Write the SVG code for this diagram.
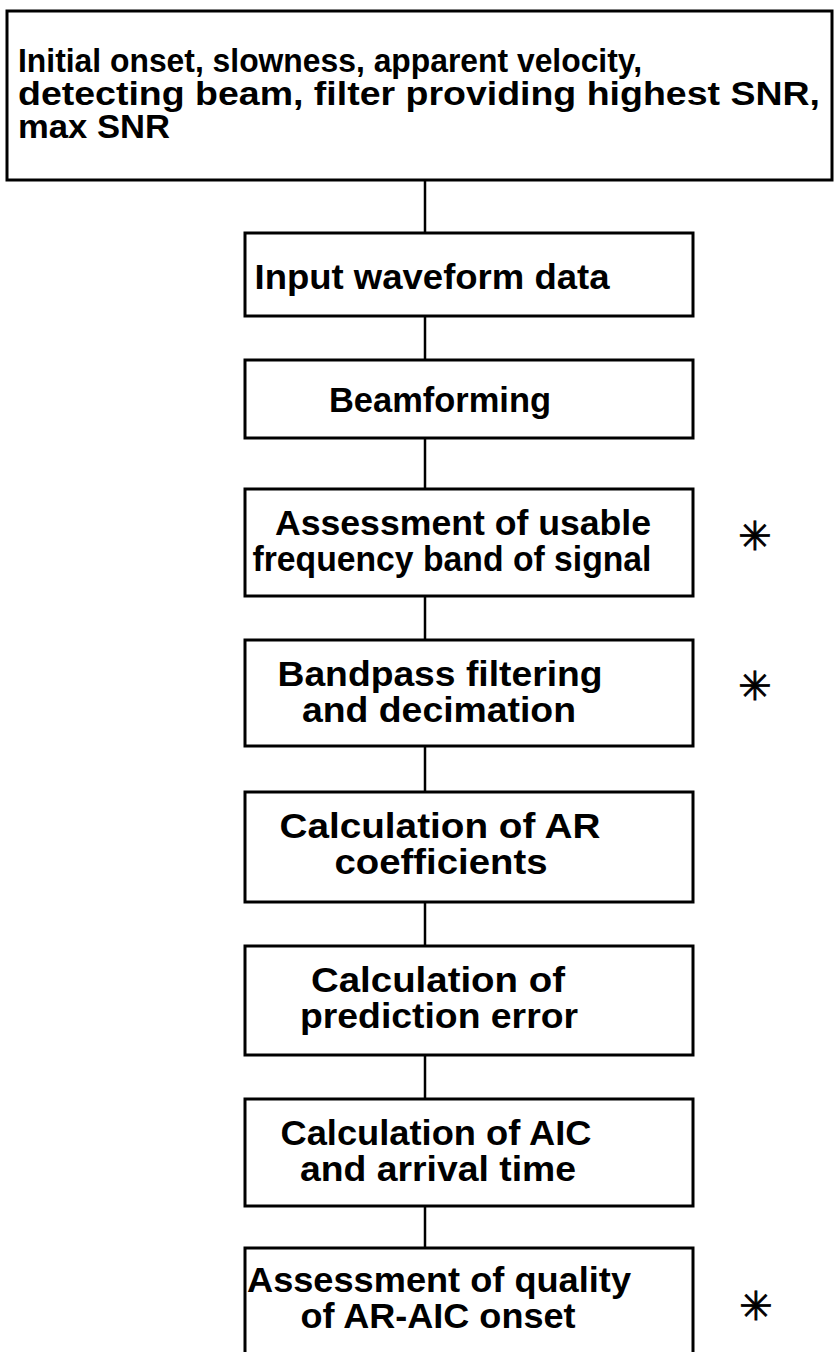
<svg xmlns="http://www.w3.org/2000/svg" width="835" height="1352" viewBox="0 0 835 1352">
<style>
.box{fill:#fff;stroke:#000;stroke-width:3}
.conn{stroke:#000;stroke-width:2.5;fill:none}
.t{font-family:"Liberation Sans",Arial,sans-serif;font-weight:bold;font-size:35px;fill:#000;text-anchor:middle}
.top{font-family:"Liberation Sans",Arial,sans-serif;font-weight:bold;font-size:33px;fill:#000}
.ast{font-family:"DejaVu Sans",sans-serif;font-size:40px;fill:#000;stroke:#000;stroke-width:0.8;text-anchor:middle}
</style>
<rect width="835" height="1352" fill="#fff"/>
<g id="connectors">
<line class="conn" x1="425" y1="180" x2="425" y2="233"/>
<line class="conn" x1="425" y1="316" x2="425" y2="360"/>
<line class="conn" x1="425" y1="438" x2="425" y2="489"/>
<line class="conn" x1="425" y1="596" x2="425" y2="640"/>
<line class="conn" x1="425" y1="746" x2="425" y2="792"/>
<line class="conn" x1="425" y1="902" x2="425" y2="946"/>
<line class="conn" x1="425" y1="1055" x2="425" y2="1099"/>
<line class="conn" x1="425" y1="1206" x2="425" y2="1248"/>
</g>
<g id="n0">
<rect class="box" x="7" y="11" width="825" height="169"/>
<text class="top" x="18" y="72" textLength="624" lengthAdjust="spacingAndGlyphs">Initial onset, slowness, apparent velocity,</text>
<text class="top" x="18" y="105" textLength="802" lengthAdjust="spacingAndGlyphs">detecting beam, filter providing highest SNR,</text>
<text class="top" x="18" y="138" textLength="152" lengthAdjust="spacingAndGlyphs">max SNR</text>
</g>
<g id="n1">
<rect class="box" x="245" y="233" width="448" height="83"/>
<text class="t" x="432" y="289" textLength="355" lengthAdjust="spacingAndGlyphs">Input waveform data</text>
</g>
<g id="n2">
<rect class="box" x="245" y="360" width="448" height="78"/>
<text class="t" x="440" y="412" textLength="222" lengthAdjust="spacingAndGlyphs">Beamforming</text>
</g>
<g id="n3">
<rect class="box" x="245" y="489" width="448" height="107"/>
<text class="t" x="463" y="535" textLength="376" lengthAdjust="spacingAndGlyphs">Assessment of usable</text>
<text class="t" x="452" y="571" textLength="399" lengthAdjust="spacingAndGlyphs">frequency band of signal</text>
</g>
<g id="n4">
<rect class="box" x="245" y="640" width="448" height="106"/>
<text class="t" x="440" y="686" textLength="325" lengthAdjust="spacingAndGlyphs">Bandpass filtering</text>
<text class="t" x="439" y="722" textLength="274" lengthAdjust="spacingAndGlyphs">and decimation</text>
</g>
<g id="n5">
<rect class="box" x="245" y="792" width="448" height="110"/>
<text class="t" x="440" y="838" textLength="321" lengthAdjust="spacingAndGlyphs">Calculation of AR</text>
<text class="t" x="441" y="874" textLength="213" lengthAdjust="spacingAndGlyphs">coefficients</text>
</g>
<g id="n6">
<rect class="box" x="245" y="946" width="448" height="109"/>
<text class="t" x="438" y="992" textLength="254" lengthAdjust="spacingAndGlyphs">Calculation of</text>
<text class="t" x="439" y="1028" textLength="278" lengthAdjust="spacingAndGlyphs">prediction error</text>
</g>
<g id="n7">
<rect class="box" x="245" y="1099" width="448" height="107"/>
<text class="t" x="436" y="1145" textLength="311" lengthAdjust="spacingAndGlyphs">Calculation of AIC</text>
<text class="t" x="438" y="1181" textLength="276" lengthAdjust="spacingAndGlyphs">and arrival time</text>
</g>
<g id="n8">
<rect class="box" x="245" y="1248" width="448" height="120"/>
<text class="t" x="439" y="1292" textLength="384" lengthAdjust="spacingAndGlyphs">Assessment of quality</text>
<text class="t" x="438" y="1328" textLength="275" lengthAdjust="spacingAndGlyphs">of AR-AIC onset</text>
</g>
<g id="asterisks">
<text class="ast" x="755" y="550">✳</text>
<text class="ast" x="755" y="700">✳</text>
<text class="ast" x="756" y="1320">✳</text>
</g>
</svg>
